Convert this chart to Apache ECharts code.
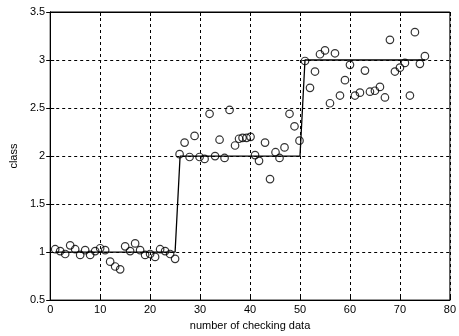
<!DOCTYPE html>
<html>
<head>
<meta charset="utf-8">
<script src="https://cdn.jsdelivr.net/npm/echarts@6/dist/echarts.min.js"></script>
<style>
html,body{margin:0;padding:0;background:#fff;}
#c{width:459px;height:336px;}
</style>
</head>
<body>
<div id="c"></div>
<script>
// true class line
var classX = [];
var classY = [];
for (var i = 1; i <= 75; i++) { classX.push(i); classY.push(i <= 25 ? 1 : (i <= 50 ? 2 : 3)); }

// predicted outputs of checking data
var predX = [
  1,2,3,4,5,6,7,8,9,10,11,12,13,14,15,16,17,18,19,20,21,22,23,24,25,
  25.9,26.9,27.9,28.9,29.9,30.9,31.9,33,33.9,34.9,35.9,37,37.8,38.5,39.3,40.1,41,41.8,43,44,45.1,45.9,46.9,47.9,48.9,49.9,
  51,52,53,54,55,56,57,58,59,60,61,62,63,64,65,66,67,68,69,70,71,72,73,74,75
];
var predY = [
  1.03,1.01,0.98,1.07,1.03,0.97,1.02,0.97,1.01,1.04,1.02,0.90,0.85,0.82,1.06,1.01,1.09,1.02,0.97,0.98,0.95,1.03,1.01,0.98,0.93,
  2.02,2.14,1.99,2.21,1.99,1.97,2.44,2.00,2.17,1.98,2.48,2.11,2.18,2.19,2.19,2.20,2.01,1.95,2.14,1.76,2.04,1.98,2.09,2.44,2.31,2.16,
  2.99,2.71,2.88,3.06,3.10,2.55,3.07,2.63,2.79,2.95,2.63,2.66,2.89,2.67,2.68,2.72,2.61,3.21,2.88,2.92,2.97,2.63,3.29,2.96,3.04
];

var xTicks = {min: 0, max: 80, interval: 10};
var yTicks = {min: 0.5, max: 3.5, interval: 0.5};

var lineData = classX.map(function(x, k){ return [x, classY[k]]; });
var scatterData = predX.map(function(x, k){ return [x, predY[k]]; });

var font = 'Liberation Sans, Arial, sans-serif';
var gridLine = {show: true, lineStyle: {color: '#000', type: [3, 3], width: 1}};
var axLine = {show: true, lineStyle: {color: '#000', width: 1}};

var chart = echarts.init(document.getElementById('c'), null, {renderer: 'canvas'});
chart.setOption({
  animation: false,
  backgroundColor: '#fff',
  grid: {left: 49, right: 6, top: 12, bottom: 32, show: true, borderColor: '#000', borderWidth: 1, backgroundColor: 'transparent'},
  xAxis: [{
    type: 'value', min: xTicks.min, max: xTicks.max, interval: xTicks.interval,
    axisLine: axLine, axisTick: {show: true, inside: true, length: 4, lineStyle: {color: '#000'}},
    splitLine: gridLine,
    axisLabel: {color: '#000', fontSize: 11, fontFamily: font, margin: 4},
    name: 'number of checking data', nameLocation: 'middle', nameGap: 17,
    nameTextStyle: {color: '#000', fontSize: 11, fontFamily: font}
  }, {
    type: 'value', position: 'top', min: xTicks.min, max: xTicks.max, interval: xTicks.interval,
    axisLine: axLine, axisTick: {show: true, inside: true, length: 4, lineStyle: {color: '#000'}},
    splitLine: {show: false}, axisLabel: {show: false}
  }],
  yAxis: [{
    type: 'value', min: yTicks.min, max: yTicks.max, interval: yTicks.interval,
    axisLine: axLine, axisTick: {show: true, inside: true, length: 4, lineStyle: {color: '#000'}},
    splitLine: gridLine,
    axisLabel: {color: '#000', fontSize: 11, fontFamily: font, margin: 5},
    name: 'class', nameLocation: 'middle', nameGap: 31,
    nameTextStyle: {color: '#000', fontSize: 11, fontFamily: font}
  }, {
    type: 'value', position: 'right', min: yTicks.min, max: yTicks.max, interval: yTicks.interval,
    axisLine: axLine, axisTick: {show: true, inside: true, length: 4, lineStyle: {color: '#000'}},
    splitLine: {show: false}, axisLabel: {show: false}
  }],
  series: [{
    type: 'line', data: lineData, showSymbol: false, symbol: 'none',
    lineStyle: {color: '#000', width: 1.3}, z: 2
  }, {
    type: 'scatter', data: scatterData, symbol: 'circle', symbolSize: 7.5,
    itemStyle: {color: 'rgba(255,255,255,0)', borderColor: '#000', borderWidth: 1.2}, z: 3
  }]
});
</script>
</body>
</html>
